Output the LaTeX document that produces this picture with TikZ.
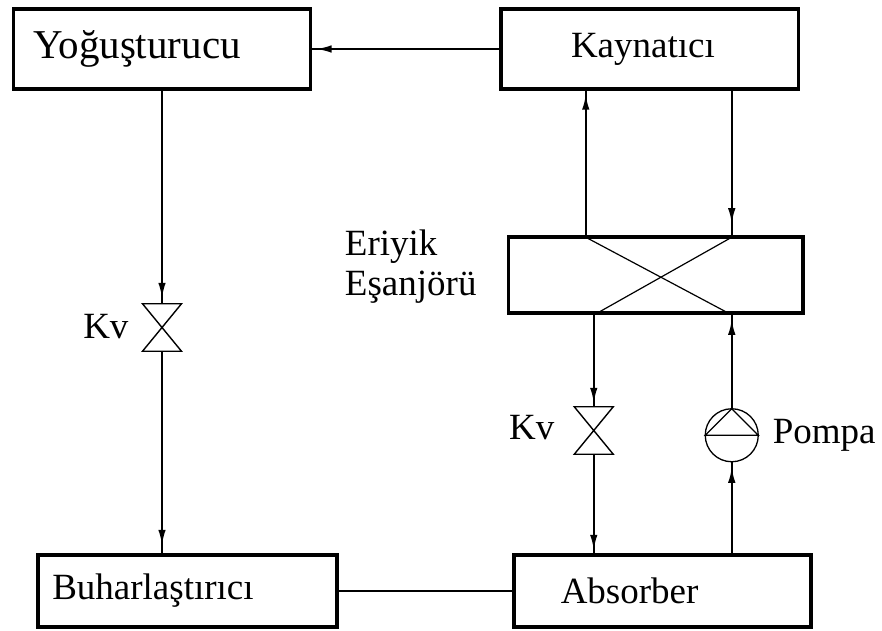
\documentclass[tikz,border=0pt]{standalone}
\usepackage{fontspec}
\setmainfont{Liberation Serif}
\usetikzlibrary{arrows.meta, positioning}
\tikzset{
  box/.style 2 args={draw, line width=3.6pt, outer sep=0pt, inner ysep=0pt, inner xsep=#2,
    text width=#1-2*#2, align=left},
  flow/.style={line width=1.8pt, postaction={draw, -{Latex[length=15pt,width=7.5pt]}, shorten >=#1}},
  flow/.default=6pt,
  lbl/.style={inner sep=0pt, outer sep=0pt},
  valve/.style={inner sep=0pt, outer sep=0pt, minimum width=39pt, minimum height=47.5pt}
}
\begin{document}
\begin{tikzpicture}[font=\fontsize{37pt}{40pt}\selectfont]
  \useasboundingbox (0pt,0pt) rectangle (882pt,630pt);
  \node[box={297pt}{19.5pt}, minimum height=79.5pt, font=\fontsize{41pt}{44pt}\selectfont]
    (yog) at (162pt,581pt) {Yoğuşturucu};
  \node[box={297.5pt}{70pt}, minimum height=79.5pt, right=190.5pt of yog] (kay) {Kaynatıcı};
  \node[box={294.5pt}{0pt}, minimum height=76pt, below=148.5pt of kay, xshift=6pt] (esj) {};
  \node[box={297pt}{47pt}, minimum height=72pt, below=241.5pt of esj, xshift=6.5pt] (abs) {Absorber};
  \node[box={299pt}{14.5pt}, minimum height=72pt, left=177pt of abs] (buh) {Buharlaştırıcı};
  \node[lbl, align=left, left=32pt of esj, yshift=9pt] (eri) {Eriyik\\Eşanjörü};

  \node[valve, below=215pt of yog] (kva) {};
  \node[valve, below=93.5pt of esj, xshift=-62pt] (kvb) {};
  \node[draw, circle, line width=1.3pt, outer sep=0pt, minimum size=53pt, inner sep=0pt,
    below=95.5pt of esj, xshift=76pt] (pmp) {};
  \node[lbl, left=14pt of kva, yshift=1pt] (kval) {Kv};
  \node[lbl, left=20pt of kvb, yshift=3pt] (kvbl) {Kv};
  \node[lbl, right=14.5pt of pmp] (pmpl) {Pompa};

  \foreach \v in {kva, kvb}
    \draw[line width=1.4pt] (\v.north west) -- (\v.north east) -- (\v.south west) -- (\v.south east) -- cycle;
  \draw[line width=1.3pt] (pmp.north) -- (pmp.west) -- (pmp.east) -- cycle;

  \coordinate (pa) at ([xshift=-70pt]esj.north);
  \coordinate (pb) at ([xshift=76pt]esj.north);
  \coordinate (pc) at ([xshift=-62pt]esj.south);
  \coordinate (pd) at ([xshift=76pt]esj.south);

  \draw[flow] (kay.west |- yog.east) -- (yog.east);
  \draw[flow] (pa) -- (pa |- kay.south);
  \draw[flow=14pt] (pb |- kay.south) -- (pb);
  \draw[flow] (yog.south -| kva.north) -- (kva.north);
  \draw[flow=10pt] (kva.south) -- (kva.south |- buh.north);
  \draw[flow=4pt] (pc) -- (kvb.north);
  \draw[flow=5pt] (kvb.south) -- (kvb.south |- abs.north);
  \draw[flow=6.5pt] (pmp.north) -- (pd);
  \draw[flow] (abs.north -| pmp.south) -- (pmp.south);
  \draw[line width=1.6pt] (buh) -- (abs);

  \draw[line width=1.2pt] ([xshift=-70pt]esj.north) -- ([xshift=71pt,yshift=1pt]esj.south);
  \draw[line width=1.2pt] ([xshift=-57pt,yshift=1pt]esj.south) -- ([xshift=76pt]esj.north);
\end{tikzpicture}
\end{document}
